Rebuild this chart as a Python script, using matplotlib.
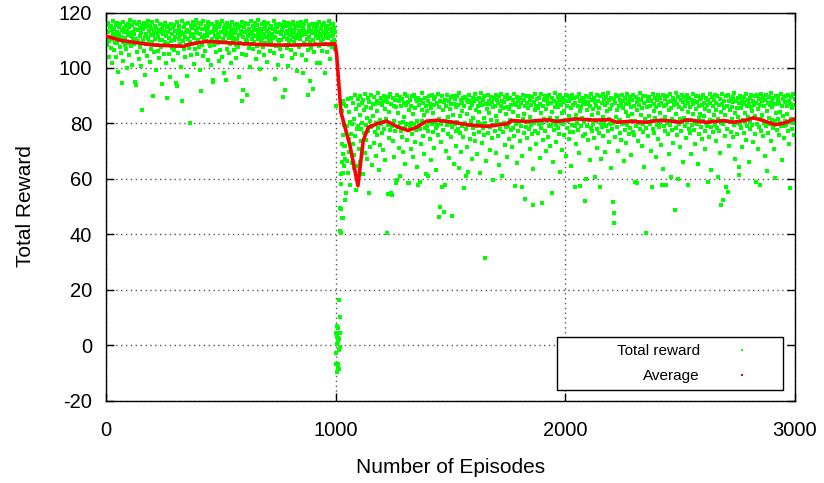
import numpy as np
import matplotlib
matplotlib.use('Agg')
import matplotlib.pyplot as plt
from matplotlib.patches import Rectangle
from matplotlib.lines import Line2D

plt.rcParams['font.family'] = ['Liberation Sans', 'DejaVu Sans']
plt.rcParams['axes.unicode_minus'] = False

# --- data --------------------------------------------------------------
# phase 1: episodes 0..998 (every 2nd episode)
rewards_a = [
    113.5, 110.2, 115.8, 108.4, 112.9, 116.3, 109.7, 104.1, 114.6, 111.3, 107.2, 115.1, 113.8, 101.9, 110.6, 116.8, 112.4, 106.5, 114.2, 109.1,
    111.7, 115.4, 103.8, 113.1, 108.9, 116.1, 110.8, 98.7, 114.9, 112.2, 107.6, 115.7, 111.0, 105.3, 94.5, 113.6, 109.4, 116.5, 102.6, 112.8,
    114.3, 108.1, 110.9, 115.2, 106.8, 113.3, 99.8, 111.9, 116.0, 109.0, 104.7, 114.7, 112.6, 117.2, 107.9, 111.4, 101.2, 115.5, 110.3, 113.0,
    108.6, 116.4, 112.1, 94.8, 114.0, 94.0, 110.5, 115.9, 105.9, 113.7, 109.8, 116.7, 103.1, 111.6, 114.5, 107.4, 112.7, 100.6, 85.0, 115.3,
    110.1, 113.9, 106.2, 116.2, 111.2, 97.6, 114.8, 108.7, 112.3, 115.6, 104.4, 110.7, 117.0, 109.3, 113.4, 102.2, 115.0, 107.0, 111.8, 114.1,
    109.5, 116.6, 112.0, 89.8, 113.2, 105.6, 115.2, 110.4, 99.3, 114.4, 108.3, 112.5, 116.9, 106.1, 111.1, 113.6, 103.5, 115.8, 109.9, 112.9,
    107.7, 114.2, 110.0, 94.3, 115.4, 112.4, 105.0, 113.5, 109.2, 116.3, 101.7, 111.5, 89.0, 114.6, 108.5, 112.8, 115.1, 104.9, 110.9, 96.6,
    113.9, 109.6, 116.0, 107.3, 112.1, 114.9, 102.8, 110.2, 115.6, 106.4, 111.3, 113.4, 94.5, 108.0, 116.4, 93.6, 112.6, 105.5, 114.0, 110.6,
    115.3, 108.8, 111.9, 100.4, 113.1, 116.8, 88.2, 109.7, 112.3, 106.7, 114.7, 111.0, 103.9, 115.9, 108.2, 112.9, 97.2, 113.8, 110.3, 116.1,
    107.1, 113.0, 109.4, 80.0, 115.0, 111.7, 104.6, 114.3, 108.6, 116.6, 112.2, 101.4, 110.8, 115.5, 106.9, 113.6, 109.0, 117.3, 105.2, 112.7,
    114.5, 110.1, 116.2, 107.5, 112.4, 99.1, 115.7, 91.5, 111.2, 113.9, 108.4, 116.9, 104.2, 110.7, 114.1, 112.0, 106.0, 115.2, 109.8, 113.3,
    111.6, 116.5, 103.0, 114.8, 109.1, 112.6, 115.8, 107.8, 113.1, 100.9, 110.4, 116.0, 112.9, 95.7, 94.8, 114.2, 108.1, 111.4, 115.3, 105.8,
    113.7, 110.0, 116.7, 108.9, 112.2, 114.6, 102.4, 111.0, 115.9, 106.3, 113.0, 109.5, 117.1, 104.0, 112.8, 110.6, 114.4, 98.3, 111.8, 115.6,
    109.3, 113.5, 95.5, 116.2, 107.0, 112.5, 114.9, 110.8, 105.4, 115.1, 111.3, 108.7, 113.8, 101.6, 116.4, 112.1, 109.7, 114.0, 106.6, 110.9,
    115.4, 112.7, 108.2, 113.6, 103.7, 116.0, 110.5, 114.3, 107.6, 111.9, 96.9, 115.0, 109.0, 113.2, 112.4, 88.0, 116.6, 105.1, 92.0, 111.1,
    114.7, 108.5, 112.9, 116.3, 110.2, 104.5, 90.4, 113.4, 109.6, 115.8, 111.5, 107.2, 114.0, 100.2, 112.3, 116.9, 108.8, 113.1, 110.6, 115.2,
    106.9, 112.0, 114.5, 109.2, 116.1, 111.4, 103.3, 113.7, 108.0, 115.5, 110.3, 112.8, 117.4, 105.7, 111.7, 114.2, 99.5, 112.5, 109.8, 115.7,
    110.7, 113.9, 107.4, 116.4, 112.1, 104.8, 114.8, 109.1, 111.0, 115.9, 102.0, 113.3, 108.6, 116.2, 110.1, 112.6, 106.2, 114.4, 111.6, 109.4,
    115.1, 112.3, 108.3, 114.1, 110.8, 116.8, 105.3, 113.5, 96.0, 111.2, 115.4, 107.9, 112.9, 114.7, 101.1, 110.0, 116.0, 109.7, 113.0, 106.8,
    112.2, 115.6, 109.9, 113.8, 104.3, 89.6, 114.6, 111.0, 116.5, 92.0, 108.4, 112.7, 115.0, 107.1, 110.5, 113.2, 100.7, 116.3, 111.8, 108.9,
    114.9, 110.2, 113.6, 106.5, 115.7, 112.4, 103.6, 111.3, 116.7, 109.3, 113.1, 105.0, 114.3, 110.9, 115.3, 98.9, 112.0, 108.1, 116.1, 111.5,
    113.4, 107.6, 115.2, 110.4, 112.8, 116.4, 104.7, 111.9, 114.5, 98.0, 109.0, 113.7, 115.9, 108.7, 112.1, 102.7, 116.8, 110.6, 113.0, 106.4,
    90.3, 114.1, 111.2, 115.5, 95.2, 109.5, 113.3, 107.3, 116.0, 112.5, 92.4, 110.1, 114.8, 105.9, 112.9, 115.8, 108.5, 111.4, 113.9, 101.8,
    115.0, 110.8, 113.5, 107.8, 116.6, 112.2, 101.6, 114.2, 109.6, 111.7, 115.6, 106.0, 113.1, 110.3, 116.2, 112.6, 98.0, 108.6, 114.7, 111.1,
    113.8, 105.6, 115.3, 110.7, 112.4, 116.9, 108.2, 114.0, 103.4, 111.5, 115.7, 109.2, 113.2, 107.5, 112.0, 116.0, 110.0, 114.5, 106.7, 112.8,
]

# transition: episodes 1000..1039 (every episode)
rewards_b = [
    86.4, -6.7, 4.5, -2.7, 6.9, 0.4, -9.6, 2.9, 6.0, -8.2,
    1.3, -6.7, 2.7, -8.5, -1.8, 16.4, 2.1, -0.6, 10.0, 4.5,
    41.2, 49.4, 58.0, 40.6, 49.0, 61.8, 72.5, 45.7, 66.0, 84.3,
    62.0, 46.0, 75.8, 69.1, 88.0, 64.5, 79.4, 71.7, 86.9, 67.3,
]

# phase 2: episodes 1040..2998 (every 2nd episode)
rewards_c = [
    52.3, 71.8, 54.7, 86.2, 66.4, 78.9, 62.1, 88.7, 74.3, 69.5, 84.1, 80.6, 57.9, 76.2, 89.3, 65.8, 79.7, 72.4, 87.5, 63.9,
    81.4, 68.7, 90.1, 75.5, 56.0, 85.3, 77.8, 64.6, 88.9, 79.2, 70.9, 86.6, 83.0, 66.1, 89.8, 78.1, 73.6, 87.2, 80.3, 61.7,
    88.4, 76.7, 84.8, 69.3, 90.6, 79.5, 86.0, 74.1, 81.9, 67.2, 89.1, 77.3, 55.0, 87.8, 80.8, 71.5, 85.6, 78.6, 90.3, 65.0,
    79.0, 87.1, 82.7, 73.0, 89.6, 77.0, 86.9, 68.4, 80.1, 88.2, 75.9, 84.4, 90.8, 78.4, 63.3, 87.4, 81.2, 72.2, 89.0, 79.8,
    86.5, 76.4, 88.0, 80.5, 70.3, 90.0, 78.0, 85.1, 66.9, 88.6, 81.6, 40.3, 87.7, 54.6, 79.3, 89.4, 74.7, 84.0, 77.6, 90.5,
    55.0, 87.0, 54.2, 79.1, 89.2, 73.8, 86.3, 80.9, 68.0, 88.5, 77.4, 58.3, 85.8, 59.7, 90.2, 78.8, 83.6, 71.2, 88.1, 80.0,
    61.0, 89.5, 77.2, 86.4, 75.0, 88.8, 80.4, 69.8, 87.3, 82.2, 90.7, 78.3, 65.5, 86.8, 79.6, 89.9, 74.0, 58.6, 87.6, 58.3,
    84.7, 78.7, 88.3, 70.6, 86.1, 80.2, 89.7, 76.1, 83.3, 67.8, 90.4, 79.9, 85.4, 73.3, 88.7, 77.7, 81.0, 87.9, 64.2, 57.9,
    89.1, 79.4, 86.7, 58.9, 77.9, 88.4, 72.7, 85.0, 80.7, 90.9, 75.3, 87.5, 82.9, 69.0, 89.3, 78.2, 61.8, 86.2, 79.0, 84.3,
    88.0, 61.0, 77.1, 89.8, 80.6, 74.5, 87.0, 66.6, 85.7, 79.7, 90.1, 83.8, 76.8, 88.9, 71.0, 86.5, 80.3, 89.4, 78.5, 63.0,
    87.3, 78.9, 90.6, 75.7, 86.0, 46.3, 81.5, 50.0, 88.2, 79.6, 73.1, 57.2, 89.7, 84.9, 77.5, 87.8, 48.0, 80.8, 57.9, 88.6,
    70.1, 86.4, 79.3, 90.3, 82.4, 76.0, 88.1, 67.5, 85.2, 80.1, 89.5, 74.9, 87.1, 46.7, 78.6, 90.0, 83.1, 65.2, 86.9, 79.8,
    88.8, 77.3, 85.9, 72.0, 89.9, 80.4, 86.6, 78.1, 64.0, 90.8, 82.6, 76.5, 88.3, 69.6, 87.2, 79.2, 84.5, 89.0, 75.2, 56.8,
    86.3, 80.0, 89.6, 60.9, 77.8, 88.4, 83.5, 71.6, 62.3, 87.6, 79.5, 90.2, 74.2, 85.5, 80.9, 88.0, 67.0, 86.8, 78.4, 89.3,
    81.8, 76.3, 87.9, 90.5, 73.5, 85.0, 79.1, 88.7, 68.8, 86.1, 80.5, 89.2, 77.0, 84.2, 62.0, 87.4, 79.9, 90.9, 72.9, 86.7,
    78.2, 88.5, 82.0, 75.8, 89.7, 31.5, 80.2, 87.0, 66.3, 85.3, 79.0, 90.4, 76.6, 88.1, 83.9, 70.4, 86.9, 78.8, 89.5, 81.1,
    87.7, 74.6, 85.8, 59.7, 89.0, 79.4, 86.2, 77.2, 90.1, 82.8, 69.2, 88.6, 80.7, 75.4, 87.3, 64.9, 89.8, 78.0, 84.6, 86.4,
    79.6, 90.6, 61.0, 88.2, 76.9, 85.4, 80.1, 87.8, 72.3, 89.4, 78.7, 83.4, 86.0, 67.7, 90.3, 79.2, 88.9, 74.4, 85.1, 81.3,
    89.1, 77.6, 86.5, 80.9, 71.4, 88.4, 84.0, 78.3, 90.7, 75.6, 57.5, 87.1, 79.8, 86.8, 65.7, 89.6, 82.5, 77.1, 88.0, 80.4,
    85.9, 73.7, 89.3, 79.0, 87.5, 68.1, 57.1, 90.2, 81.7, 76.4, 88.6, 83.2, 52.8, 86.1, 78.6, 89.9, 74.8, 87.2, 80.6, 85.6,
    78.1, 90.0, 82.3, 70.8, 88.3, 79.3, 86.6, 76.0, 89.5, 63.6, 50.6, 87.6, 80.3, 84.8, 77.4, 90.5, 72.6, 86.3, 81.0, 88.8,
    76.7, 85.7, 89.1, 79.8, 67.4, 87.0, 83.6, 78.5, 90.6, 51.1, 80.0, 86.2, 74.1, 88.4, 81.4, 89.7, 77.3, 85.2, 69.9, 87.9,
    80.8, 88.7, 75.1, 86.9, 79.1, 90.3, 82.1, 71.9, 87.4, 78.9, 89.2, 55.0, 84.1, 80.5, 65.9, 88.1, 77.5, 86.0, 90.8, 79.4,
    73.2, 87.3, 81.9, 89.4, 78.2, 85.8, 76.2, 88.5, 62.3, 90.1, 80.2, 86.7, 83.7, 70.5, 89.0, 79.7, 87.7, 75.9, 84.4, 88.2,
    81.2, 68.3, 90.4, 78.4, 86.4, 80.7, 89.8, 74.3, 87.9, 82.7, 77.0, 88.9, 64.6, 85.5, 79.5, 90.2, 76.8, 86.6, 81.6, 89.1,
    79.2, 56.9, 87.5, 83.0, 72.4, 89.6, 80.0, 86.1, 77.7, 90.7, 69.4, 84.3, 57.5, 88.0, 78.9, 85.9, 81.8, 89.3, 75.5, 87.1,
    80.4, 88.4, 76.3, 52.0, 86.9, 60.0, 90.0, 79.0, 84.7, 87.6, 73.9, 89.5, 81.1, 66.8, 86.4, 78.3, 90.6, 82.9, 77.4, 88.6,
    85.1, 79.6, 89.2, 74.7, 60.5, 87.8, 80.8, 86.2, 71.2, 90.3, 78.1, 83.9, 88.1, 76.6, 85.6, 57.1, 89.9, 80.1, 67.1, 87.3,
    78.6, 90.5, 82.4, 75.3, 88.7, 80.6, 86.5, 69.7, 89.4, 79.1, 84.6, 87.2, 77.2, 90.9, 81.5, 73.4, 88.3, 79.9, 85.3, 63.8,
    89.0, 77.9, 86.8, 80.2, 51.8, 44.2, 47.5, 88.9, 75.0, 87.4, 82.2, 90.1, 78.8, 85.0, 70.0, 89.7, 80.9, 86.3, 76.5, 88.5,
    81.3, 87.0, 74.0, 90.4, 79.7, 85.7, 88.2, 66.5, 80.3, 89.1, 77.6, 84.2, 86.9, 72.8, 90.7, 79.3, 88.0, 82.6, 76.1, 87.5,
    89.6, 78.5, 85.8, 80.7, 68.6, 88.6, 83.4, 77.0, 90.2, 75.7, 86.1, 59.0, 81.0, 89.4, 79.0, 87.7, 58.6, 84.8, 73.6, 88.8,
    80.1, 86.6, 90.8, 77.8, 83.1, 88.3, 71.7, 85.4, 79.6, 89.8, 76.9, 87.2, 64.3, 81.7, 90.0, 40.3, 78.2, 86.0, 80.5, 88.9,
    75.4, 87.9, 82.8, 89.5, 79.8, 86.4, 70.2, 88.1, 80.9, 57.1, 90.6, 78.0, 84.5, 87.0, 76.4, 89.2, 81.9, 67.9, 85.9, 79.4,
    88.4, 74.5, 90.3, 80.3, 86.7, 78.7, 83.8, 89.0, 72.1, 87.4, 57.9, 81.2, 63.4, 90.1, 79.1, 86.2, 77.3, 88.7, 82.3, 57.9,
    86.8, 80.0, 89.7, 76.2, 87.6, 69.1, 84.9, 90.5, 79.5, 85.5, 60.7, 88.2, 81.6, 77.7, 89.3, 73.0, 86.5, 80.8, 48.8, 88.0,
    78.4, 90.9, 83.3, 87.1, 75.8, 60.0, 89.6, 79.7, 86.0, 81.4, 71.3, 88.6, 77.1, 85.2, 90.2, 80.4, 66.2, 87.7, 82.0, 89.4,
    79.0, 86.3, 74.8, 88.9, 80.6, 90.4, 84.0, 57.9, 87.3, 78.1, 89.1, 76.7, 85.8, 81.1, 68.9, 88.5, 79.3, 86.9, 90.7, 83.5,
    77.5, 88.1, 80.2, 72.5, 89.8, 85.1, 79.9, 87.8, 65.4, 90.0, 81.8, 86.1, 76.0, 88.7, 83.2, 78.8, 89.3, 74.2, 86.6, 80.7,
    90.3, 82.5, 87.5, 77.4, 85.3, 70.7, 89.0, 80.0, 86.8, 79.2, 58.7, 88.3, 84.4, 75.1, 90.6, 81.3, 87.2, 78.6, 63.1, 89.5,
    80.9, 86.2, 76.8, 88.6, 82.9, 90.1, 79.5, 73.8, 87.4, 85.0, 78.2, 89.7, 60.5, 81.5, 86.7, 77.2, 88.9, 69.3, 84.1, 50.6,
    90.5, 80.3, 87.0, 52.4, 79.7, 85.6, 88.2, 75.6, 83.0, 56.9, 89.9, 81.0, 86.4, 78.0, 55.3, 90.2, 72.0, 87.9, 80.6, 84.7,
    88.8, 77.0, 86.0, 81.7, 89.4, 74.9, 87.6, 79.3, 90.8, 83.6, 67.3, 88.1, 80.1, 85.4, 76.3, 89.2, 82.4, 87.3, 64.4, 61.5,
    79.8, 90.0, 85.7, 78.3, 88.4, 71.5, 86.9, 81.1, 89.6, 76.5, 87.8, 83.9, 80.5, 90.7, 74.1, 86.3, 79.0, 88.6, 82.2, 66.0,
    87.1, 80.8, 89.3, 77.8, 85.9, 90.4, 79.4, 84.3, 73.2, 88.0, 81.9, 86.5, 76.1, 89.8, 82.7, 59.0, 87.5, 79.6, 90.1, 70.6,
    85.2, 88.7, 78.7, 86.8, 57.9, 81.4, 90.6, 77.3, 87.9, 83.1, 75.3, 89.0, 80.2, 86.1, 68.2, 88.3, 79.1, 90.3, 84.6, 62.7,
    80.0, 87.4, 76.4, 89.5, 82.1, 86.6, 79.8, 90.8, 73.5, 88.2, 81.2, 85.8, 78.5, 89.1, 70.9, 87.0, 60.4, 80.7, 90.0, 83.7,
    86.9, 77.7, 88.5, 81.6, 89.9, 75.9, 87.2, 80.3, 84.2, 90.5, 78.9, 86.4, 66.7, 88.8, 82.6, 79.2, 89.4, 74.6, 87.6, 81.0,
    89.7, 79.5, 86.3, 83.4, 77.1, 90.2, 80.6, 88.0, 72.6, 56.8, 87.1, 81.5, 89.6, 78.1, 85.7, 90.6, 80.2, 86.7, 75.7, 88.9,
]

episodes_a = np.arange(0, 1000, 2)
episodes_b = np.arange(1000, 1040)
episodes_c = np.arange(1040, 3000, 2)

# running average, read at its turning points
avg_episodes = [0, 60, 200, 340, 360, 440, 550, 670, 790, 900, 997, 1004, 1023, 1062, 1097,
                1120, 1142, 1179, 1222, 1266, 1315, 1353, 1396, 1440, 1498, 1570, 1614, 1658,
                1716, 1745, 1766, 1832, 1926, 1962, 2049, 2122, 2194, 2224, 2281, 2354, 2398,
                2441, 2499, 2528, 2615, 2688, 2731, 2790, 2818, 2862, 2913, 2949, 2999]
avg_values = [111.5, 110.0, 108.3, 107.8, 108.5, 109.6, 109.0, 108.4, 108.2, 108.4, 108.7, 105.0,
              84.0, 72.0, 57.5, 73.8, 78.6, 79.8, 80.8, 78.9, 77.4, 78.6, 80.8, 81.1, 80.6, 79.5,
              79.2, 78.9, 79.5, 79.8, 81.0, 80.7, 81.3, 80.7, 81.6, 81.2, 81.3, 80.4, 80.7, 80.4,
              81.0, 81.0, 80.4, 81.3, 80.4, 81.0, 80.4, 81.2, 82.0, 81.0, 79.5, 80.0, 81.6]

GREEN = '#00ff00'
RED = '#ff0000'

fig = plt.figure(figsize=(8.24, 4.83), dpi=100)
ax = fig.add_axes([106 / 824, 1 - 400.5 / 483, 689 / 824, 388 / 483])

episodes = np.concatenate([episodes_a, episodes_b, episodes_c])
rewards = np.array(rewards_a + rewards_b + rewards_c)
ax.plot(episodes, rewards, ls='none', marker='s', ms=2.3, mew=0, color=GREEN, zorder=2)
ax.plot(avg_episodes, avg_values, '-', color=RED, lw=2.6, zorder=3)

ax.set_xlim(0, 3000)
ax.set_ylim(-20, 120)
ax.set_xticks([0, 1000, 2000, 3000])
ax.set_yticks(np.arange(-20, 121, 20))

ax.set_axisbelow(True)
ax.grid(True, color='#555555', lw=1.0, ls=(0, (1, 2.5)))
for s in ax.spines.values():
    s.set_linewidth(1.0)
    s.set_color('black')

ax.tick_params(direction='in', length=6, width=1, top=True, right=True, labelsize=14.5)
ax.tick_params(axis='x', pad=14.5)
ax.tick_params(axis='y', pad=10)

ax.set_xlabel('Number of Episodes', fontsize=15, labelpad=13)
ax.set_ylabel('Total Reward', fontsize=15, labelpad=17)

# gnuplot-style key box
ax.add_patch(Rectangle((0.654, 0.026), 0.329, 0.1375, transform=ax.transAxes,
                       fc='white', ec='black', lw=1.0, zorder=4))
handles = [Line2D([], [], ls='none', marker='s', ms=1.7, mew=0, color=GREEN),
           Line2D([], [], ls='none', marker='s', ms=1.7, mew=0, color=RED)]
leg = ax.legend(handles, ['Total reward', 'Average'], loc='center right',
                bbox_to_anchor=(0.934, 0.095), borderaxespad=0, borderpad=0,
                frameon=False, markerfirst=False, handlelength=1.0,
                handletextpad=2.25, labelspacing=0.72, fontsize=11)
leg.set_zorder(5)

fig.savefig('out.png', dpi=100)
